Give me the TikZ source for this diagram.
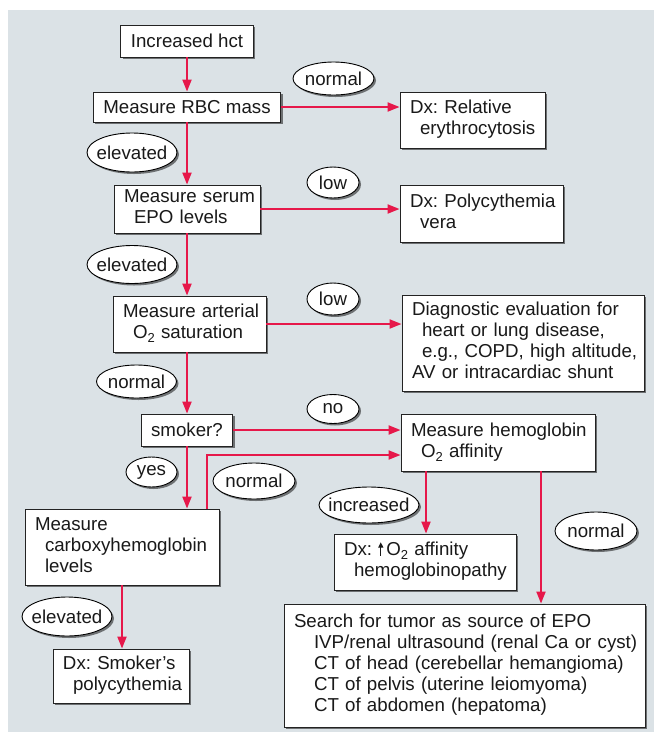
\documentclass[tikz,border=0pt]{standalone}
\usepackage{fontspec}
\setmainfont{Liberation Sans}
\usetikzlibrary{arrows.meta,shapes.geometric,shadows}
\frenchspacing
\definecolor{bgc}{RGB}{219,226,230}
\definecolor{arrc}{RGB}{230,24,74}
\definecolor{edgec}{RGB}{35,35,35}
\definecolor{txtc}{RGB}{25,25,25}
\newcommand\ind{\hspace*{10pt}}
\newcommand\osub[1]{\raisebox{-0.22em}{\fontsize{13}{13}\selectfont #1}}
\newcommand\boxlines[1]{\begin{tabular}{@{}l@{}}#1\end{tabular}}
\newcommand\uparr{\tikz[baseline=0pt]{\draw[line width=1.3pt,-{Triangle[length=5.5pt,width=5pt]}] (0pt,0pt)--(0pt,13.5pt);}}
\tikzset{
  shad/.style={drop shadow={shadow xshift=2pt,shadow yshift=-2pt,fill=black,opacity=0.5}},
  box/.style={shad, draw=edgec, line width=0.9pt, fill=white, inner xsep=10pt, inner ysep=0pt, align=left, text=txtc, font=\fontsize{18.7}{21}\selectfont},
  lab/.style={shad, ellipse, draw=black, line width=0.9pt, fill=white, inner sep=0pt, text=txtc, font=\fontsize{18.7}{21}\selectfont},
  arr/.style={draw=arrc, line width=2pt, -{Triangle[length=12pt,width=9pt]}},
}
\begin{document}
\begin{tikzpicture}[x=1pt,y=-1pt]
\useasboundingbox (0,0) rectangle (654,732);
\fill[bgc] (8,10) rectangle (654,732);

% boxes
\node[box, minimum width=132pt, minimum height=32pt, align=center] (hct) at (187,41) {Increased hct};
\node[box, minimum width=186pt, minimum height=30pt, align=center] (rbc) at (187,107) {Measure RBC mass};
\node[box, text width=125pt, minimum height=56pt] (rel) at (472.5,120) {\boxlines{Dx: Relative\\ \ind erythrocytosis}};
\node[box, text width=126pt, minimum height=48pt] (epo) at (187,209) {\boxlines{Measure serum\\ \ind EPO levels}};
\node[box, text width=143pt, minimum height=57pt] (pv) at (481.5,213.5) {\boxlines{Dx: Polycythemia\\ \ind vera}};
\node[box, text width=133pt, minimum height=56pt] (art) at (189.5,324) {\boxlines{Measure arterial\\ \ind O\osub{2} saturation}};
\node[box, text width=222pt, minimum height=96pt] (diag) at (523,343) {\boxlines{Diagnostic evaluation for\\ \ind heart or lung disease,\\ \ind e.g., COPD, high altitude,\\ AV or intracardiac shunt}};
\node[box, minimum width=88pt, minimum height=32pt, align=center] (smoker) at (187,430) {smoker?};
\node[box, text width=174pt, minimum height=57pt] (hgb) at (498,442.5) {\boxlines{Measure hemoglobin\\ \ind O\osub{2} affinity}};
\node[box, text width=174pt, minimum height=76pt] (cbx) at (122,547) {\boxlines{Measure\\ \ind carboxyhemoglobin\\ \ind levels}};
\node[box, text width=116pt, minimum height=54pt] (smk) at (121,676) {\boxlines{Dx: Smoker’s\\ \ind polycythemia}};
\node[box, text width=162pt, minimum height=56pt] (aff) at (425,562) {\boxlines{Dx: \uparr\,O\osub{2} affinity\\ \ind hemoglobinopathy}};
\node[box, text width=341pt, minimum height=123pt] (srch) at (464.5,665.5) {\boxlines{Search for tumor as source of EPO\\ \ind\ind IVP/renal ultrasound (renal Ca or cyst)\\ \ind\ind CT of head (cerebellar hemangioma)\\ \ind\ind CT of pelvis (uterine leiomyoma)\\ \ind\ind CT of abdomen (hepatoma)}};

% labels
\node[lab, minimum width=81pt, minimum height=33pt] (l1) at (333.5,78.5) {\makebox[0pt]{normal}};
\node[lab, minimum width=90pt, minimum height=39pt] (l2) at (132,152.5) {\makebox[0pt]{elevated}};
\node[lab, minimum width=52pt, minimum height=31pt] (l3) at (333,182.5) {\makebox[0pt]{low}};
\node[lab, minimum width=90pt, minimum height=38pt] (l4) at (132,264.5) {\makebox[0pt]{elevated}};
\node[lab, minimum width=52pt, minimum height=32pt] (l5) at (333,299) {\makebox[0pt]{low}};
\node[lab, minimum width=80pt, minimum height=33pt] (l6) at (136.5,381.5) {\makebox[0pt]{normal}};
\node[lab, minimum width=52pt, minimum height=29pt] (l7) at (333,409) {\makebox[0pt]{no}};
\node[lab, minimum width=51pt, minimum height=30pt] (l8) at (151.5,472) {\makebox[0pt]{yes}};
\node[lab, minimum width=82pt, minimum height=36pt] (l9) at (254,481) {\makebox[0pt]{normal}};
\node[lab, minimum width=90pt, minimum height=39pt] (l10) at (67,616.5) {\makebox[0pt]{elevated}};
\node[lab, minimum width=100pt, minimum height=36pt] (l11) at (369,505) {\makebox[0pt]{increased}};
\node[lab, minimum width=82pt, minimum height=38pt] (l12) at (596,531) {\makebox[0pt]{normal}};

% connectors
\draw[arr] (hct.south) -- (rbc.north);
\draw[arr] (rbc.east) -- (rbc.east -| rel.west);
\draw[arr] (rbc.south) -- (epo.north);
\draw[arr] (epo.east) -- (epo.east -| pv.west);
\draw[arr] (epo.south) -- (epo.south |- art.north);
\draw[arr] (art.east) -- (art.east -| diag.west);
\draw[arr] (smoker.north |- art.south) -- (smoker.north);
\draw[arr] (smoker.east) -- (smoker.east -| hgb.west);
\draw[arr] (smoker.south) -- (smoker.south |- cbx.north);
\draw[arr] ([xshift=85pt]cbx.north) |- ([yshift=-12.5pt]hgb.west);
\draw[arr] (cbx.south) -- (cbx.south |- smk.north);
\draw[arr] ([xshift=-72pt]hgb.south) -- ([xshift=-72pt]hgb.south |- aff.north);
\draw[arr] ([xshift=43pt]hgb.south) -- ([xshift=43pt]hgb.south |- srch.north);
\end{tikzpicture}
\end{document}
